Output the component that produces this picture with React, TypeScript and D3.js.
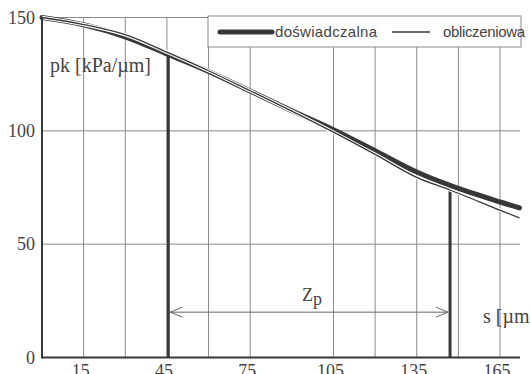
import React from "react";
import * as d3 from "d3";

// ---- data ----
const sPoints = [0, 15, 30, 45, 60, 75, 90, 105, 120, 135, 147, 165, 172];
const experimental = [150, 146.8, 141.5, 133.9, 126.2, 117.6, 108.9, 100.5, 91.2, 81.8, 75.9, 68.6, 66];
const calculated = [150, 146.9, 142.4, 134.7, 126.5, 117.7, 108.7, 99.4, 89.6, 79.5, 73.9, 65.0, 61.6];
const xTickLabels = [15, 45, 75, 105, 135, 165];
const xGrid = [15, 30, 45, 60, 75, 105, 120, 135, 150, 165];
const yTicks = [0, 50, 100, 150];
const markerS = [45.5, 147];
const markerTop = [133.7, 75.9];
const zpLevel = 20;
const seriesNames = ["doświadczalna", "obliczeniowa"];

const W = 530;
const H = 374;

export default function App() {
  const x = d3.scaleLinear().domain([0, 165]).range([42, 500]);
  const y = d3.scaleLinear().domain([0, 150]).range([357.5, 17.5]);
  const xEnd = 520;

  const line = d3
    .line<number>()
    .x((_, i) => x(sPoints[i]))
    .y((d) => y(d))
    .curve(d3.curveCatmullRom.alpha(0.5));

  const serif = "'Liberation Serif', 'Times New Roman', serif";
  const sans = "'Liberation Sans', Arial, sans-serif";
  const gridColor = "#8a8a8a";
  const dark = "#383838";
  const textColor = "#444";

  const ax0 = x(markerS[0]) + 2;
  const ax1 = x(markerS[1]) - 2;
  const ay = y(zpLevel);

  return (
    <div style={{ position: "fixed", left: 0, top: 0 }}>
      <svg width={W} height={H} style={{ display: "block", background: "#fff" }}>
        {/* horizontal grid */}
        {yTicks
          .filter((t) => t > 0)
          .map((t) => (
            <line key={"hg" + t} x1={x(0)} x2={xEnd} y1={y(t)} y2={y(t)} stroke={gridColor} strokeWidth={1} />
          ))}
        {/* vertical grid */}
        {xGrid.map((t) => (
          <line key={"vg" + t} x1={x(t)} x2={x(t)} y1={y(150)} y2={y(0)} stroke={gridColor} strokeWidth={1} />
        ))}

        {/* legend */}
        <rect x={208} y={16} width={313} height={31} fill="#fff" stroke={gridColor} strokeWidth={1} />
        <line x1={220} x2={272} y1={32} y2={32} stroke={dark} strokeWidth={5} strokeLinecap="round" />
        <text x={275} y={37} fontFamily={sans} fontSize={15} fill={textColor} textLength={102} lengthAdjust="spacing">
          {seriesNames[0]}
        </text>
        <line x1={392} x2={430} y1={32} y2={32} stroke={dark} strokeWidth={1.3} />
        <text x={443} y={37} fontFamily={sans} fontSize={15} fill={textColor} textLength={82} lengthAdjust="spacing">
          {seriesNames[1]}
        </text>

        {/* markers */}
        {markerS.map((s, i) => (
          <line key={"m" + i} x1={x(s)} x2={x(s)} y1={y(markerTop[i])} y2={y(0)} stroke={dark} strokeWidth={3} />
        ))}

        {/* Zp arrow */}
        <line x1={ax0} x2={ax1} y1={ay} y2={ay} stroke="#666" strokeWidth={1} />
        <polyline points={`${ax0 + 12},${ay - 5} ${ax0},${ay} ${ax0 + 12},${ay + 5}`} fill="none" stroke="#666" strokeWidth={1} />
        <polyline points={`${ax1 - 12},${ay - 5} ${ax1},${ay} ${ax1 - 12},${ay + 5}`} fill="none" stroke="#666" strokeWidth={1} />
        <text x={302} y={301} fontFamily={serif} fontSize={18} fill={textColor}>
          Z
        </text>
        <text x={313} y={305} fontFamily={serif} fontSize={18} fill={textColor}>
          p
        </text>

        {/* curves */}
        <path d={line(experimental) || ""} fill="none" stroke={dark} strokeWidth={5} strokeLinejoin="round" strokeLinecap="round" />
        <path d={line(calculated) || ""} fill="none" stroke="#fff" strokeWidth={3.5} strokeLinejoin="round" />
        <path d={line(calculated) || ""} fill="none" stroke={dark} strokeWidth={1.3} strokeLinejoin="round" />

        {/* axes */}
        <line x1={x(0)} x2={x(0)} y1={y(150)} y2={y(0) + 1} stroke={dark} strokeWidth={2} />
        <line x1={x(0)} x2={xEnd} y1={y(0)} y2={y(0)} stroke={dark} strokeWidth={2} />

        {/* y tick labels */}
        {yTicks.map((t) => (
          <text key={"yl" + t} x={35} y={y(t)} dy="0.35em" textAnchor="end" fontFamily={serif} fontSize={18} fill={textColor}>
            {t}
          </text>
        ))}
        {/* x tick labels */}
        {xTickLabels.map((t) => (
          <text key={"xl" + t} x={x(t) - 3} y={377} textAnchor="middle" fontFamily={serif} fontSize={18} fill={textColor}>
            {t}
          </text>
        ))}

        {/* axis titles */}
        <text x={50} y={72} fontFamily={serif} fontSize={20} fill={textColor}>
          pk [kPa/µm]
        </text>
        <text x={483} y={323} fontFamily={serif} fontSize={20} fill={textColor}>
          s [µm]
        </text>
      </svg>
    </div>
  );
}
